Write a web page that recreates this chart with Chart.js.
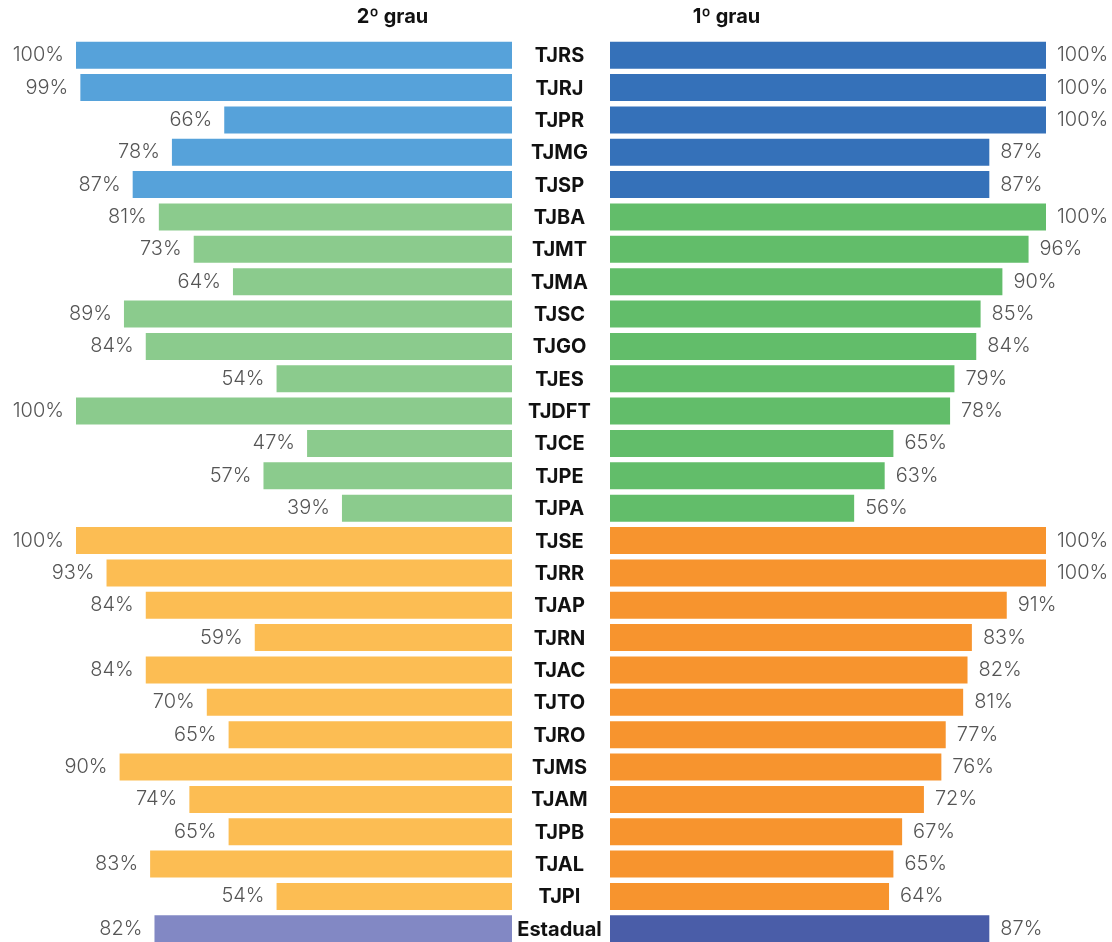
<!DOCTYPE html>
<html>
<head>
<meta charset="utf-8">
<script src="https://cdn.jsdelivr.net/npm/chart.js@4.4.1/dist/chart.umd.min.js"></script>
<style>
  html, body { margin: 0; padding: 0; background: #fff; overflow: hidden; }
  #wrap { position: relative; width: 1112px; height: 942px; overflow: hidden; }
  canvas { position: absolute; top: 0; }
  #left { left: 0; }
  #right { left: 512px; }
</style>
</head>
<body>
<div id="wrap">
  <canvas id="left" width="512" height="946"></canvas>
  <canvas id="right" width="600" height="946"></canvas>
</div>
<script>
// Data
const tribunais = ['TJRS','TJRJ','TJPR','TJMG','TJSP','TJBA','TJMT','TJMA','TJSC','TJGO','TJES','TJDFT','TJCE','TJPE','TJPA',
                   'TJSE','TJRR','TJAP','TJRN','TJAC','TJTO','TJRO','TJMS','TJAM','TJPB','TJAL','TJPI','Estadual'];
const segundoGrau = [100,99,66,78,87,81,73,64,89,84,54,100,47,57,39,100,93,84,59,84,70,65,90,74,65,83,54,82];
const primeiroGrau = [100,100,100,87,87,100,96,90,85,84,79,78,65,63,56,100,100,91,83,82,81,77,76,72,67,65,64,87];
// porte do tribunal: 0 grande, 1 medio, 2 pequeno, 3 total
const porte = [0,0,0,0,0, 1,1,1,1,1,1,1,1,1,1, 2,2,2,2,2,2,2,2,2,2,2,2, 3];

const coresEsq = ['#56A2DA','#8BCB8D','#FCBD53','#8288C4'];
const coresDir = ['#3571B9','#62BD6A','#F7942E','#4A5DA8'];

const valueFont = '300 20px Inter, "Noto Sans", sans-serif';
const labelFont = 'bold 20px Inter, "Noto Sans", sans-serif';

// draws the % next to each bar, plus title and middle labels
function labelsPlugin(side, title, titleX) {
    return {
        id: 'labels_' + side,
        afterDatasetsDraw(chart) {
            const ctx = chart.ctx;
            const meta = chart.getDatasetMeta(0);
            const vals = chart.data.datasets[0].data;
            ctx.save();
            ctx.font = valueFont;
            ctx.fillStyle = '#555';
            ctx.textBaseline = 'middle';
            meta.data.forEach((bar, i) => {
                const txt = vals[i] + '%';
                if (side === 'left') {
                    ctx.textAlign = 'right';
                    ctx.fillText(txt, bar.x - 12, bar.y);
                } else {
                    ctx.textAlign = 'left';
                    ctx.fillText(txt, bar.x + 11, bar.y);
                }
            });
            ctx.font = labelFont;
            ctx.fillStyle = '#111';
            ctx.textAlign = 'center';
            ctx.fillText(title, titleX, 17);
            if (side === 'right') {
                const y = chart.scales.y;
                chart.data.labels.forEach((lab, i) => {
                    ctx.fillText(lab, 47.5, y.getPixelForValue(i) + 1);
                });
            }
            ctx.restore();
        }
    };
}

function makeChart(id, side, valores, cores, pad, title, titleX) {
    return new Chart(document.getElementById(id), {
        type: 'bar',
        data: {
            labels: tribunais,
            datasets: [{
                data: valores,
                backgroundColor: porte.map(p => cores[p]),
                borderWidth: 0,
                barPercentage: 0.835,
                categoryPercentage: 1
            }]
        },
        options: {
            indexAxis: 'y',
            responsive: false,
            animation: false,
            devicePixelRatio: 1,
            layout: { padding: pad },
            plugins: { legend: { display: false }, tooltip: { enabled: false } },
            scales: {
                x: { min: 0, max: 100, reverse: side === 'left', display: false },
                y: { display: false }
            }
        },
        plugins: [labelsPlugin(side, title, titleX)]
    });
}

makeChart('left', 'left', segundoGrau, coresEsq, { left: 76, right: 0, top: 39, bottom: 1 }, '2º grau', 392.5);
makeChart('right', 'right', primeiroGrau, coresDir, { left: 98, right: 66, top: 39, bottom: 1 }, '1º grau', 214.5);
</script>
</body>
</html>
